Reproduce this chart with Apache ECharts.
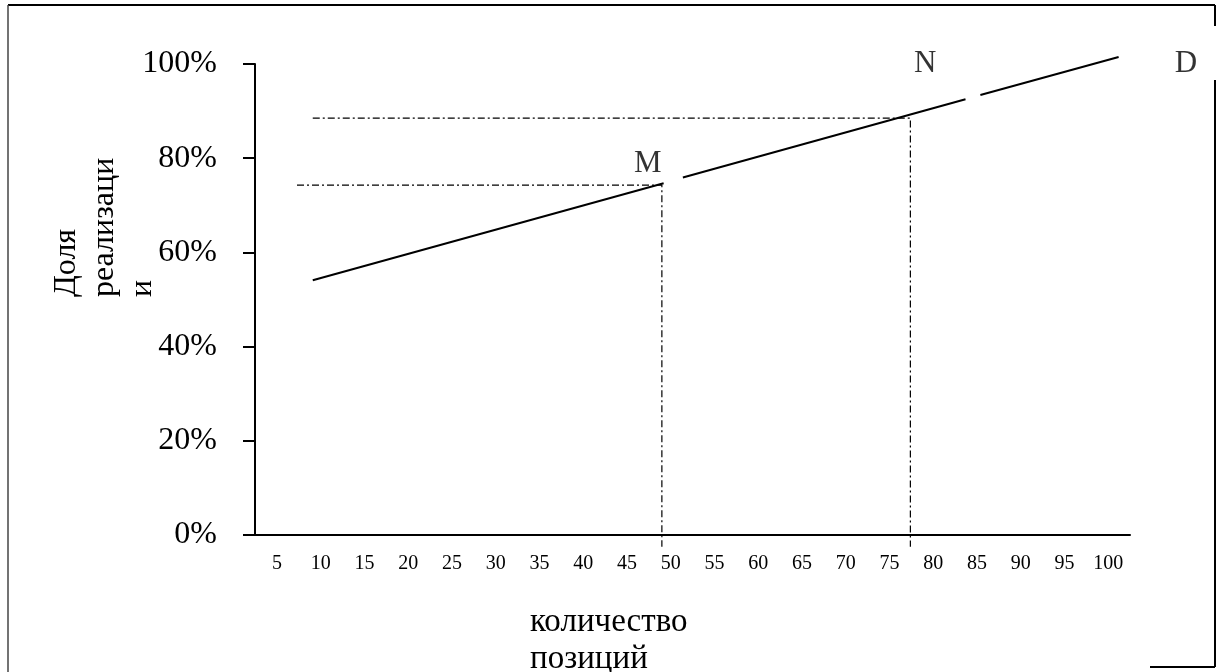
<!DOCTYPE html>
<html><head><meta charset="utf-8">
<script src="https://cdn.jsdelivr.net/npm/echarts@6/dist/echarts.min.js"></script>
<style>html,body{margin:0;padding:0;background:#fff}#c{width:1221px;height:672px}</style>
</head><body><div id="c"></div>
<script>
// categories on the x axis
const categories = ['5','10','15','20','25','30','35','40','45','50','55','60','65','70','75','80','85','90','95','100'];
// y tick values (percent)
const yTicks = [0, 20, 40, 60, 80, 100];
// main line, drawn in three pieces (gaps next to M and N/D labels) [x, percent]
const lineSeg1 = [[9.1, 54.1], [49.2, 74.7]];
const lineSeg2 = [[51.4, 75.9], [83.7, 92.5]];
const lineSeg3 = [[85.4, 93.4], [101.2, 101.5]];
// dash-dot guide lines
const guideM = [[7.3, 74.3], [49.0, 74.3], [49.0, -2.5]];
const guideN = [[9.1, 88.5], [77.4, 88.5], [77.4, -2.5]];
// point labels
const pointLabels = [['M', 47.4, 78.8], ['N', 79.1, 100.0], ['D', 108.9, 100.0]];

const serif = 'Liberation Serif';
const chart = echarts.init(document.getElementById('c'), null, {renderer: 'canvas'});
const lineStyle = {color: '#000', width: 2};
const dashDot = {color: '#000', width: 1.2, type: [7, 3, 2, 3]};
chart.setOption({
  animation: false,
  backgroundColor: '#fff',
  grid: {left: 255, right: 91, top: 64, bottom: 137, containLabel: false},
  xAxis: [{
    type: 'category', data: categories, boundaryGap: true,
    axisLine: {lineStyle: {color: '#000', width: 2}},
    axisTick: {interval: 0, length: 5, lineStyle: {color: '#000', width: 2}},
    axisLabel: {interval: 0, color: '#000', fontFamily: serif, fontSize: 20, margin: 19},
    splitLine: {show: false}
  }, {
    type: 'value', min: 2.5, max: 102.5, show: false
  }],
  yAxis: {
    type: 'value', min: 0, max: 100, interval: 20,
    axisLine: {show: true, lineStyle: {color: '#000', width: 2}},
    axisTick: {show: true, length: 12, lineStyle: {color: '#000', width: 2}},
    axisLabel: {color: '#000', fontFamily: serif, fontSize: 32, margin: 38,
      formatter: v => yTicks.includes(v) ? v + '%' : ''},
    splitLine: {show: false}
  },
  series: [
    {type: 'line', xAxisIndex: 1, data: lineSeg1, symbol: 'none', lineStyle: lineStyle, clip: false},
    {type: 'line', xAxisIndex: 1, data: lineSeg2, symbol: 'none', lineStyle: lineStyle, clip: false},
    {type: 'line', xAxisIndex: 1, data: lineSeg3, symbol: 'none', lineStyle: lineStyle, clip: false},
    {type: 'line', xAxisIndex: 1, data: guideM, symbol: 'none', lineStyle: dashDot, clip: false},
    {type: 'line', xAxisIndex: 1, data: guideN, symbol: 'none', lineStyle: dashDot, clip: false},
    {type: 'scatter', xAxisIndex: 1, clip: false, symbolSize: 0,
      data: pointLabels.map(p => ({name: p[0], value: [p[1], p[2]]})),
      label: {show: true, position: 'inside', formatter: '{b}', color: '#000', fontFamily: serif, fontSize: 31}}
  ],
  graphic: [
    {type: 'line', shape: {x1: 8, y1: 5, x2: 1215, y2: 5}, style: {stroke: '#000', lineWidth: 2}},
    {type: 'line', shape: {x1: 8, y1: 5, x2: 8, y2: 672}, style: {stroke: '#444', lineWidth: 1.5}},
    {type: 'line', shape: {x1: 1215, y1: 5, x2: 1215, y2: 26}, style: {stroke: '#000', lineWidth: 2}},
    {type: 'line', shape: {x1: 1215, y1: 80, x2: 1215, y2: 667}, style: {stroke: '#000', lineWidth: 2}},
    {type: 'line', shape: {x1: 1150, y1: 667, x2: 1215, y2: 667}, style: {stroke: '#000', lineWidth: 2}},
    {type: 'text', x: 48, y: 297, rotation: Math.PI / 2,
      style: {text: 'Доля\nреализаци\nи', fill: '#000', font: '32px "Liberation Serif"',
        textAlign: 'left', textVerticalAlign: 'top', lineHeight: 38}},
    {type: 'text', x: 530, y: 604,
      style: {text: 'количество\nпозиций', fill: '#000', font: '33px "Liberation Serif"',
        textAlign: 'left', textVerticalAlign: 'top', lineHeight: 37}}
  ]
});
</script></body></html>
